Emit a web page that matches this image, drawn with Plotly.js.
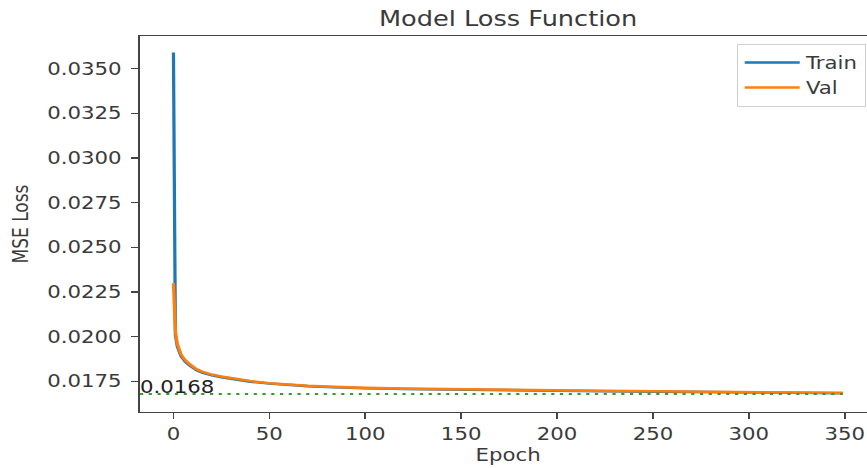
<!DOCTYPE html>
<html>
<head>
<meta charset="utf-8">
<script src="https://cdn.plot.ly/plotly-3.0.1.min.js"></script>
<style>
html,body{margin:0;padding:0;overflow:hidden;background:#fff}
#wrap{width:867px;height:468px;overflow:hidden;position:relative}
#chart{width:701px;height:468px;transform:scaleX(1.25);transform-origin:0 0}
</style>
</head>
<body>
<div id="wrap"><div id="chart"></div></div>
<script>
// Data
const epochs = [0,1,2,3,4,5,6,8,10,12,15,20,25,30,40,50,60,70,80,90,100,120,140,160,180,200,225,250,275,300,325,349];
const trainLoss = [0.03590,0.02010,0.01945,0.01910,0.01890,0.01876,0.01862,0.01843,0.01826,0.01813,0.01800,0.01784,0.01774,0.01766,0.01749,0.01738,0.01730,0.01724,0.01719,0.01715,0.01712,0.01708,0.01705,0.01702,0.01699,0.01697,0.01695,0.01693,0.01691,0.01689,0.01687,0.01684];
const valLoss = [0.02300,0.02030,0.01960,0.01920,0.01900,0.01885,0.01870,0.01850,0.01832,0.01818,0.01805,0.01788,0.01778,0.01769,0.01752,0.01740,0.01732,0.01726,0.01721,0.01717,0.01714,0.01710,0.01707,0.01704,0.01701,0.01699,0.01697,0.01695,0.01693,0.01691,0.01689,0.01686];
const minLineX = [-17.45, 349];
const minLineY = [0.0168, 0.0168];
const minLabel = "0.0168";
const xTicks = [0,50,100,150,200,250,300,350];
const yTicks = [0.0175,0.0200,0.0225,0.0250,0.0275,0.0300,0.0325,0.0350];
const seriesNames = ["Train", "Val"];

const FONT = "DejaVu Sans, sans-serif";
const TXT = "#3a3a3a";

const traces = [
  {x: epochs, y: trainLoss, name: seriesNames[0], type: "scatter", mode: "lines",
   line: {color: "#1f77b4", width: 2.6}},
  {x: epochs, y: valLoss, name: seriesNames[1], type: "scatter", mode: "lines",
   line: {color: "#ff7f0e", width: 2.6}},
  {x: minLineX, y: minLineY, type: "scatter", mode: "lines", showlegend: false,
   line: {color: "#2ca02c", width: 2, dash: "2.5px,4.5px"}}
];

const layout = {
  width: 701, height: 468,
  margin: {l: 112, r: 0, t: 36, b: 56, pad: 0},
  paper_bgcolor: "#ffffff", plot_bgcolor: "#ffffff",
  font: {family: FONT, size: 17, color: TXT},
  title: {text: "Model Loss Function", x: 0.5, xref: "paper", xanchor: "center",
          y: 1 - 19/468, yref: "container", yanchor: "middle",
          font: {family: FONT, size: 20.5, color: TXT}},
  xaxis: {
    range: [-17.45, 366.45], tickmode: "array", tickvals: xTicks,
    ticktext: xTicks.map(String),
    ticks: "outside", ticklen: 6, tickwidth: 1.3, tickcolor: "#444",
    showline: true, linecolor: "#444", linewidth: 1.3, mirror: true,
    showgrid: false, zeroline: false,
    tickfont: {family: FONT, size: 17, color: TXT},
    title: {text: "Epoch", font: {family: FONT, size: 17, color: TXT}, standoff: 6}
  },
  yaxis: {
    range: [0.01579, 0.03682], tickmode: "array", tickvals: yTicks,
    ticktext: yTicks.map(v => v.toFixed(4)),
    ticks: "outside", ticklen: 6, tickwidth: 1.3, tickcolor: "#444",
    ticklabelstandoff: 4,
    showline: true, linecolor: "#444", linewidth: 1.3, mirror: true,
    showgrid: false, zeroline: false,
    tickfont: {family: FONT, size: 17, color: TXT},
    title: {text: "MSE Loss", font: {family: FONT, size: 17, color: TXT}, standoff: 10}
  },
  legend: {
    x: 0.986, xanchor: "right", y: 0.979, yanchor: "top",
    bgcolor: "#ffffff", bordercolor: "#d0d0d0", borderwidth: 1,
    font: {family: FONT, size: 17, color: TXT},
    itemwidth: 44,
    tracegroupgap: 0
  },
  annotations: [{
    x: minLineX[0], y: minLineY[0], xref: "x", yref: "y",
    text: minLabel, showarrow: false, xanchor: "left", yanchor: "bottom",
    yshift: -5, xshift: -2,
    font: {family: FONT, size: 17, color: "#222"}
  }],
  showlegend: true
};

Plotly.newPlot("chart", traces, layout, {displayModeBar: false, staticPlot: true});
</script>
</body>
</html>
